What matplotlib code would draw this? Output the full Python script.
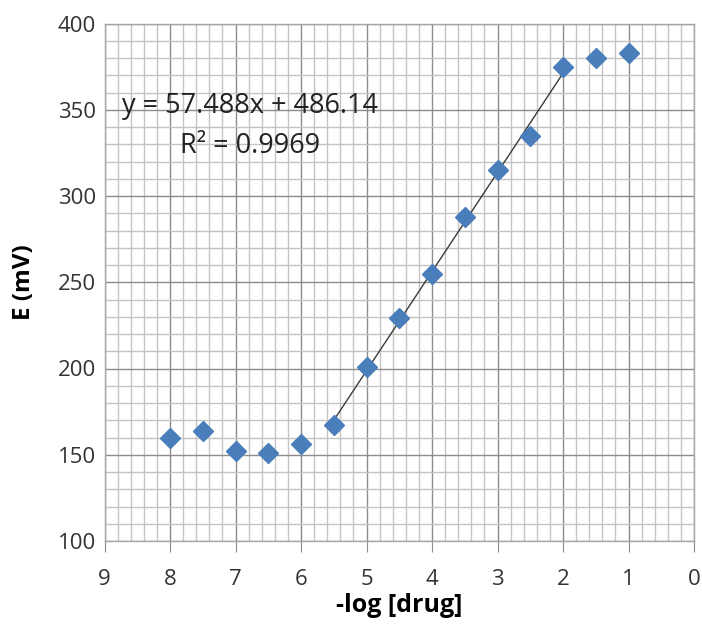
import numpy as np
import matplotlib
matplotlib.use("Agg")
import matplotlib.pyplot as plt
from matplotlib.ticker import MultipleLocator

# Data
neg_log_drug = [8, 7.5, 7, 6.5, 6, 5.5, 5, 4.5, 4, 3.5, 3, 2.5, 2, 1.5, 1]
E_mV = [160, 164, 152, 151, 156, 167, 201, 229, 255, 288, 315, 335, 375, 380, 383]
fit_range = [5.5, 2]
slope = 57.488
intercept = 486.14
r2 = 0.9969
x_ticks = [9, 8, 7, 6, 5, 4, 3, 2, 1, 0]
y_ticks = [100, 150, 200, 250, 300, 350, 400]

plt.rcParams['font.family'] = ['Open Sans', 'DejaVu Sans']

fig = plt.figure(figsize=(7.02, 6.26), dpi=100)
ax = fig.add_axes([104.5/702, 1 - 541/626, (694 - 104.5)/702, (541 - 23.5)/626])

ax.set_xlim(9, 0)
ax.set_ylim(100, 400)
ax.set_xticks(x_ticks)
ax.set_yticks(y_ticks)
ax.xaxis.set_minor_locator(MultipleLocator(0.2))
ax.yaxis.set_minor_locator(MultipleLocator(10))
ax.grid(which='major', color='#8c8c8c', linewidth=1.0)
ax.grid(which='minor', color='#c4c4c4', linewidth=1.0)
ax.set_axisbelow(True)

for s in ax.spines.values():
    s.set_color('#a6a6a6')
    s.set_linewidth(1.0)

ax.tick_params(axis='x', which='major', direction='out', length=8, color='#8c8c8c',
               labelsize=16, labelcolor='#333333', pad=12)
ax.tick_params(axis='x', which='minor', length=0)
ax.tick_params(axis='y', which='both', length=0, labelsize=16, labelcolor='#333333', pad=6)

# trendline
xf = np.array(fit_range, dtype=float)
yf = slope * (-xf) + intercept
ax.plot(xf, yf, color='#3a3a3a', linewidth=1.0, zorder=3)

ax.plot(neg_log_drug, E_mV, linestyle='none', marker='D', markersize=10.5,
        color='#4a7ebb', markeredgecolor='#4a7ebb', zorder=4)

ax.text(6.78, 352, f"y = {slope}x + {intercept}", fontsize=19.5, color='#222222',
        ha='center', va='center')
ax.text(6.78, 329, f"R\u00b2 = {r2}", fontsize=19.5, color='#222222',
        ha='center', va='center')

ax.set_xlabel('-log [drug]', fontsize=18, fontweight='bold', labelpad=2)
ax.set_ylabel('E (mV)', fontsize=17.5, fontweight='bold', labelpad=16)

fig.savefig('out.png', dpi=100)
